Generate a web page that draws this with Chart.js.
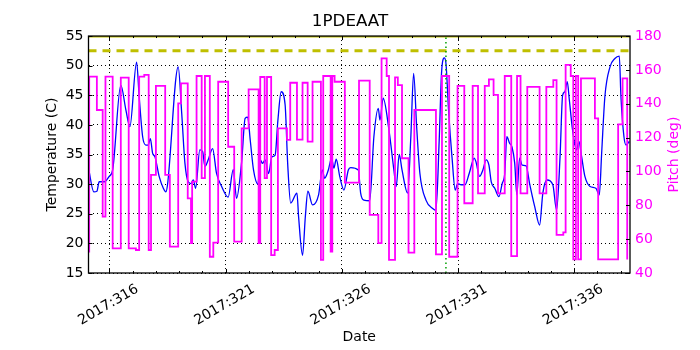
<!DOCTYPE html>
<html>
<head>
<meta charset="utf-8">
<script src="https://cdn.jsdelivr.net/npm/chart.js@4.4.0/dist/chart.umd.min.js"></script>
<style>
  body { margin: 0; background: #fff; }
  canvas { display: block; }
</style>
</head>
<body>
<canvas id="pitchChart" width="700" height="350"></canvas>
<script>
// temperature (1PDEAAT), day of year 2017
const tempDays = [315.10,315.33,315.46,315.56,315.78,315.99,316.14,316.49,316.71,316.88,
  317.17,317.28,317.43,317.57,317.67,317.76,317.86,317.96,318.14,318.32,
  318.43,318.50,318.96,319.11,319.25,319.39,319.51,319.61,319.71,319.89,
  320.01,320.11,320.25,320.44,320.61,320.83,321.11,321.33,321.47,321.69,
  321.84,321.95,322.06,322.20,322.39,322.49,322.59,322.70,322.85,322.99,
  323.13,323.25,323.39,323.56,323.67,323.80,324.07,324.14,324.31,324.43,
  324.54,324.74,325.00,325.16,325.26,325.42,325.56,325.66,325.76,325.91,
  326.09,326.28,326.38,326.71,326.81,326.95,327.20,327.38,327.57,327.64,
  327.78,328.03,328.24,328.34,328.47,328.59,328.83,328.97,329.09,329.22,
  329.36,329.62,329.91,330.05,330.19,330.29,330.41,330.48,330.60,330.74,
  330.88,330.98,331.13,331.30,331.48,331.70,331.77,331.93,332.07,332.21,
  332.33,332.43,332.58,332.76,332.90,333.01,333.10,333.22,333.32,333.44,
  333.53,333.65,333.76,333.93,334.08,334.30,334.51,334.65,334.83,335.08,
  335.24,335.39,335.50,335.60,335.70,335.79,335.93,336.10,336.20,336.32,
  336.46,336.68,336.93,337.08,337.18,337.32,337.54,337.75,337.94,338.01,
  338.14,338.23,338.37];
const tempValues = [32.7,28.7,28.8,30.4,30.4,31.3,32.4,46.7,42.5,39.7,
  50.6,44.8,38,36.6,36.6,37.7,35.2,34.6,31.3,29.3,
  28.7,29.9,49.8,42,33.5,30.4,30.1,30.7,29.3,35.8,
  35.5,33,34.1,36,31.8,29.6,27.8,32.5,27.6,33.8,
  41.1,41.3,37.4,32.4,30,34.1,33.5,34.1,31.8,34.6,
  34.9,40.8,45.6,43.4,33.5,26.8,28.5,24.5,18,24.5,
  28.8,26.5,28.2,32.4,31,32.4,34.4,32.7,34.2,31.3,
  29,32.4,32.8,32.4,28.5,27.3,27.2,38,42.8,40.8,
  44.5,39.1,32.4,29.6,35,32.4,28.5,38,48.7,39.7,
  31.8,27.3,25.9,25.6,37.4,48.7,51.3,50.4,42,34.6,
  29,30.1,29.9,29.9,31.8,34.4,33.8,31.3,32.4,34.1,
  33.2,30.4,29.3,27.9,30.1,31.8,38,36.9,36.3,33.5,
  28.2,34.4,33.2,33.1,30.1,26.2,23.1,28.5,30.7,29.9,
  25.6,34.6,45,45.6,47.3,44.2,39.1,35.8,37.2,34.6,
  31.3,29.6,29.3,28.2,35.2,44.8,49.8,51.2,51.6,44.8,
  38,36.6,37.2];

// pitch: each value holds from its day until the next day
const pitchDays = [315.12,315.13,315.46,315.71,315.83,316.14,316.49,316.83,317.14,317.28,
  317.50,317.69,317.79,318.00,318.40,318.60,318.96,319.08,319.37,319.51,
  319.56,319.75,319.97,320.11,320.32,320.47,320.68,321.11,321.37,321.69,
  321.99,322.42,322.49,322.68,322.78,322.96,323.11,323.25,323.64,323.78,
  324.07,324.31,324.53,324.74,325.10,325.20,325.52,325.59,325.69,326.13,
  326.74,327.20,327.57,327.71,327.93,328.03,328.29,328.41,328.59,328.87,
  329.12,330.05,330.31,330.62,330.98,331.27,331.63,331.86,332.15,332.33,
  332.53,332.72,333.01,333.29,333.54,333.69,333.98,334.51,334.80,335.10,
  335.24,335.53,335.63,335.85,335.96,336.07,336.17,336.29,336.89,337.03,
  337.89,338.08,338.28];
const pitchValues = [52.6,156,136.3,73.3,156,54.6,155.4,54.6,53.6,156,
  157,53.6,98,150.5,98,55.6,140.2,152,84.1,57.6,
  94,156.4,96,156.4,49.6,57.9,153,114.6,58.5,125.5,
  148.5,57.6,155.8,96,155.8,50.6,53.6,125.5,118.6,152.4,
  118.8,152.4,117.6,153,47.7,156.4,52.6,156.4,153,93.4,
  153.6,74.3,57.6,166.8,156.4,47.7,155.6,151,107.8,52,
  136.3,51,156.4,49.6,150.5,81.2,150.5,87.1,150.5,154.4,
  145.2,87.1,156.4,50,156.4,87.1,150,87.1,150,154,
  62.5,64,163,156.4,48,156.4,48,155,131.4,48.1,
  127.8,155,48];

const limitTemp = 52.5;
const topLimitTemp = 55;
const eventDay = 330.48;

const xMin = 315.1, xMax = 338.4;
const xMajorDays = [316, 321, 326, 331, 336];
const xMinorDays = [];
for (let d = 316; d <= 338; d++) xMinorDays.push(d);
const tempTicks = [15, 20, 25, 30, 35, 40, 45, 50, 55];
const pitchTicks = [40, 60, 80, 100, 120, 140, 160, 180];

const FONT = '"DejaVu Sans", "Liberation Sans", sans-serif';
const MAGENTA = '#ff00ff';

const tempPoints = tempDays.map((d, i) => ({ x: d, y: tempValues[i] }));
const pitchPoints = pitchDays.map((d, i) => ({ x: d, y: pitchValues[i] }));

// inside ticks, frame, rotated date labels, right axis title
const frameAndTicks = {
  id: 'frameAndTicks',
  afterDatasetsDraw(chart) {
    const { ctx, chartArea: a, scales } = chart;
    const x = scales.x, y = scales.y, y2 = scales.y2;
    ctx.save();
    ctx.strokeStyle = '#000';
    ctx.lineWidth = 1;
    ctx.beginPath();
    xMinorDays.forEach(d => {
      const px = Math.round(x.getPixelForValue(d)) + 0.5;
      const len = xMajorDays.includes(d) ? 4 : 2;
      ctx.moveTo(px, a.bottom); ctx.lineTo(px, a.bottom - len);
      ctx.moveTo(px, a.top); ctx.lineTo(px, a.top + len);
    });
    tempTicks.forEach(v => {
      const py = Math.round(y.getPixelForValue(v)) + 0.5;
      ctx.moveTo(a.left, py); ctx.lineTo(a.left + 4, py);
    });
    pitchTicks.forEach(v => {
      const py = Math.round(y2.getPixelForValue(v)) + 0.5;
      ctx.moveTo(a.right, py); ctx.lineTo(a.right - 4, py);
    });
    ctx.stroke();
    ctx.lineWidth = 1.3;
    ctx.strokeRect(a.left, a.top, a.right - a.left, a.bottom - a.top);

    ctx.fillStyle = '#000';
    ctx.font = '14px ' + FONT;
    ctx.textAlign = 'center';
    ctx.textBaseline = 'middle';
    xMajorDays.forEach(d => {
      ctx.save();
      ctx.translate(x.getPixelForValue(d) - 1, a.bottom + 32);
      ctx.rotate(-Math.PI / 6);
      ctx.fillText('2017:' + d, 0, 0);
      ctx.restore();
    });

    ctx.fillStyle = MAGENTA;
    ctx.save();
    ctx.translate(674, (a.top + a.bottom) / 2);
    ctx.rotate(-Math.PI / 2);
    ctx.fillText('Pitch (deg)', 0, 0);
    ctx.restore();
    ctx.restore();
  }
};

new Chart(document.getElementById('pitchChart'), {
  type: 'line',
  data: {
    datasets: [
      {
        label: 'event',
        data: [{ x: eventDay, y: 15 }, { x: eventDay, y: 55 }],
        borderColor: '#00a000',
        borderWidth: 1.5,
        borderDash: [1.5, 3],
        pointRadius: 0,
        yAxisID: 'y'
      },
      {
        label: 'Pitch',
        data: pitchPoints,
        borderColor: MAGENTA,
        borderWidth: 1.8,
        stepped: 'before',
        pointRadius: 0,
        yAxisID: 'y2'
      },
      {
        label: '1PDEAAT',
        data: tempPoints,
        borderColor: '#0000ff',
        borderWidth: 1.3,
        pointRadius: 0,
        cubicInterpolationMode: 'monotone',
        yAxisID: 'y'
      },
      {
        label: 'limit',
        data: [{ x: xMin, y: limitTemp }, { x: xMax, y: limitTemp }],
        borderColor: '#bfbf00',
        borderWidth: 3,
        borderDash: [8, 6],
        pointRadius: 0,
        yAxisID: 'y'
      },
      {
        label: 'top limit',
        data: [{ x: xMin, y: topLimitTemp }, { x: xMax, y: topLimitTemp }],
        borderColor: '#bfbf00',
        borderWidth: 3,
        pointRadius: 0,
        yAxisID: 'y'
      }
    ]
  },
  options: {
    responsive: false,
    animation: false,
    layout: { padding: 0 },
    plugins: {
      legend: { display: false },
      tooltip: { enabled: false },
      title: {
        display: true,
        text: '1PDEAAT',
        color: '#000',
        font: { family: FONT, size: 16.7, weight: 'normal', lineHeight: 1.2 },
        padding: { top: 12, bottom: 4 }
      }
    },
    scales: {
      x: {
        type: 'linear',
        min: xMin,
        max: xMax,
        afterBuildTicks: s => { s.ticks = xMinorDays.map(v => ({ value: v })); },
        afterFit: s => { s.height = 77; },
        ticks: { display: false },
        grid: {
          drawTicks: false,
          color: c => (c.tick && xMajorDays.includes(c.tick.value)) ? '#000' : 'rgba(0,0,0,0)',
          lineWidth: 1
        },
        border: { display: false, dash: [1, 3] },
        title: {
          display: true,
          text: 'Date',
          color: '#000',
          font: { family: FONT, size: 14 },
          padding: { top: 0, bottom: 4 }
        }
      },
      y: {
        position: 'left',
        min: 15,
        max: 55,
        afterBuildTicks: s => { s.ticks = tempTicks.map(v => ({ value: v })); },
        afterFit: s => { s.width = 88.5; },
        ticks: { color: '#000', padding: 5, font: { family: FONT, size: 14 } },
        grid: { drawTicks: false, color: '#000', lineWidth: 1 },
        border: { display: false, dash: [1, 3] },
        title: {
          display: true,
          text: 'Temperature (C)',
          color: '#000',
          font: { family: FONT, size: 14 },
          padding: { top: 44, bottom: 0 }
        }
      },
      y2: {
        position: 'right',
        min: 40,
        max: 180,
        afterBuildTicks: s => { s.ticks = pitchTicks.map(v => ({ value: v })); },
        afterFit: s => { s.width = 70; },
        ticks: { color: MAGENTA, padding: 5, font: { family: FONT, size: 14 } },
        grid: { drawOnChartArea: false, drawTicks: false },
        border: { display: false }
      }
    }
  },
  plugins: [frameAndTicks]
});
</script>
</body>
</html>
